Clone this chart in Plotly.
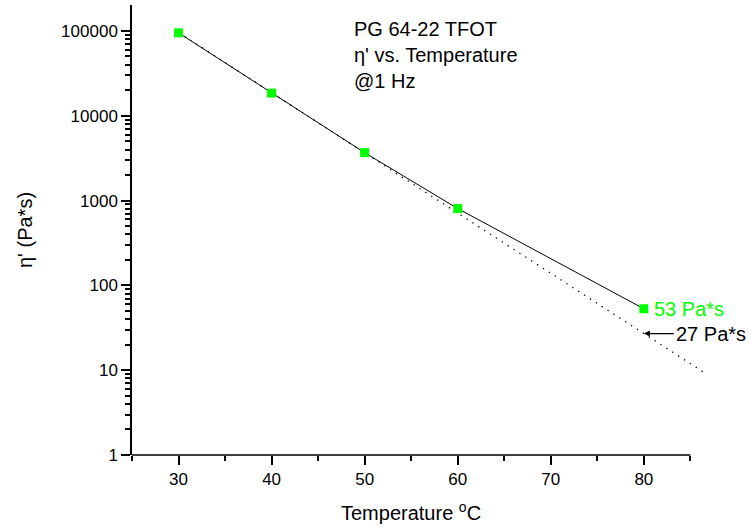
import math
import plotly.graph_objects as go

# ---------------- data ----------------
temp_c = [30, 40, 50, 60, 80]
eta_pa_s = [95000, 18500, 3670, 805, 53]

fit_temp_c = [30, 86.6]
fit_eta_pa_s = [96000, 9.2]

measured_label_temp = 80
measured_label_eta = 53
measured_label = "53 Pa*s"
fit_label_temp = 80
fit_label_eta = 27
fit_label = "27 Pa*s"

x_ticks = [30, 40, 50, 60, 70, 80]
x_minor_ticks = [25, 35, 45, 55, 65, 75, 85]
y_ticks = [1, 10, 100, 1000, 10000, 100000]
y_tick_text = ["1", "10", "100", "1000", "10000", "100000"]
y_minor_ticks = [m * 10 ** e for e in range(0, 6) for m in range(2, 10) if m * 10 ** e < 200000]

title_lines = ["PG 64-22 TFOT", "η' vs. Temperature", "@1 Hz"]
x_title = "Temperature <sup>o</sup>C"
y_title = "η' (Pa*s)"

# ---------------- style ----------------
X_MIN = 25
X_AXIS_END = 85
X_DRAW_END = 87
Y_LOG_MAX = 5.306
FONT = "Liberation Sans, Arial, sans-serif"
GREEN = "#00FF00"

fig = go.Figure()

fig.add_trace(go.Scatter(
    x=fit_temp_c, y=fit_eta_pa_s, mode="lines",
    line=dict(color="black", width=1.3, dash="1.3px,5.7px"),
    hoverinfo="skip", showlegend=False))

fig.add_trace(go.Scatter(
    x=temp_c, y=eta_pa_s, mode="lines+markers",
    line=dict(color="black", width=1),
    marker=dict(symbol="square", size=9, color=GREEN, line=dict(width=0)),
    cliponaxis=False, showlegend=False))

axis_common = dict(
    showgrid=False, zeroline=False, ticks="outside", ticklen=9, tickwidth=1.5,
    tickcolor="black", tickfont=dict(family=FONT, size=17, color="black"),
)

fig.update_xaxes(
    range=[X_MIN, X_DRAW_END], tickvals=x_ticks, showline=False,
    minor=dict(tickvals=x_minor_ticks, ticks="outside", ticklen=5, tickwidth=1.5,
               tickcolor="black", showgrid=False),
    **axis_common)

fig.update_yaxes(
    type="log", range=[0, Y_LOG_MAX], tickvals=y_ticks, ticktext=y_tick_text,
    showline=True, linewidth=1.5, linecolor="black",
    minor=dict(tickvals=y_minor_ticks, ticks="outside", ticklen=5, tickwidth=1.5,
               tickcolor="black", showgrid=False),
    **axis_common)

# x axis line, ending at 85
fig.add_shape(type="line", xref="paper", yref="paper",
              x0=0, x1=(X_AXIS_END - X_MIN) / (X_DRAW_END - X_MIN), y0=0, y1=0,
              line=dict(color="black", width=1.5))

ann_font = dict(family=FONT, size=20, color="black")

fig.add_annotation(
    text="<br>".join(title_lines), xref="paper", yref="paper",
    x=0.381, y=0.976, xanchor="left", yanchor="top", align="left",
    showarrow=False, font=ann_font)

fig.add_annotation(
    text=measured_label, x=measured_label_temp, y=math.log10(measured_label_eta),
    xanchor="left", yanchor="middle", xshift=8, showarrow=False,
    font=dict(family=FONT, size=20, color=GREEN))

fig.add_annotation(
    text=fit_label, x=fit_label_temp, y=math.log10(fit_label_eta),
    ax=30, ay=0, xanchor="left", yanchor="middle",
    showarrow=True, arrowhead=2, arrowsize=1, arrowwidth=1.2,
    arrowcolor="black", font=ann_font)

fig.add_annotation(
    text=x_title, x=(X_MIN + X_AXIS_END) / 2, xref="x", yref="paper", y=0,
    xanchor="center", yanchor="middle", yshift=-56, showarrow=False, font=ann_font)

fig.add_annotation(
    text=y_title, xref="paper", yref="paper", x=0, y=0.5, xshift=-107,
    xanchor="center", yanchor="middle", textangle=-90, showarrow=False, font=ann_font)

fig.update_layout(
    width=755, height=531,
    margin=dict(l=132, r=46, t=5, b=76),
    paper_bgcolor="white", plot_bgcolor="white",
    font=dict(family=FONT, color="black"),
    showlegend=False,
)

fig.write_html("out.html")
